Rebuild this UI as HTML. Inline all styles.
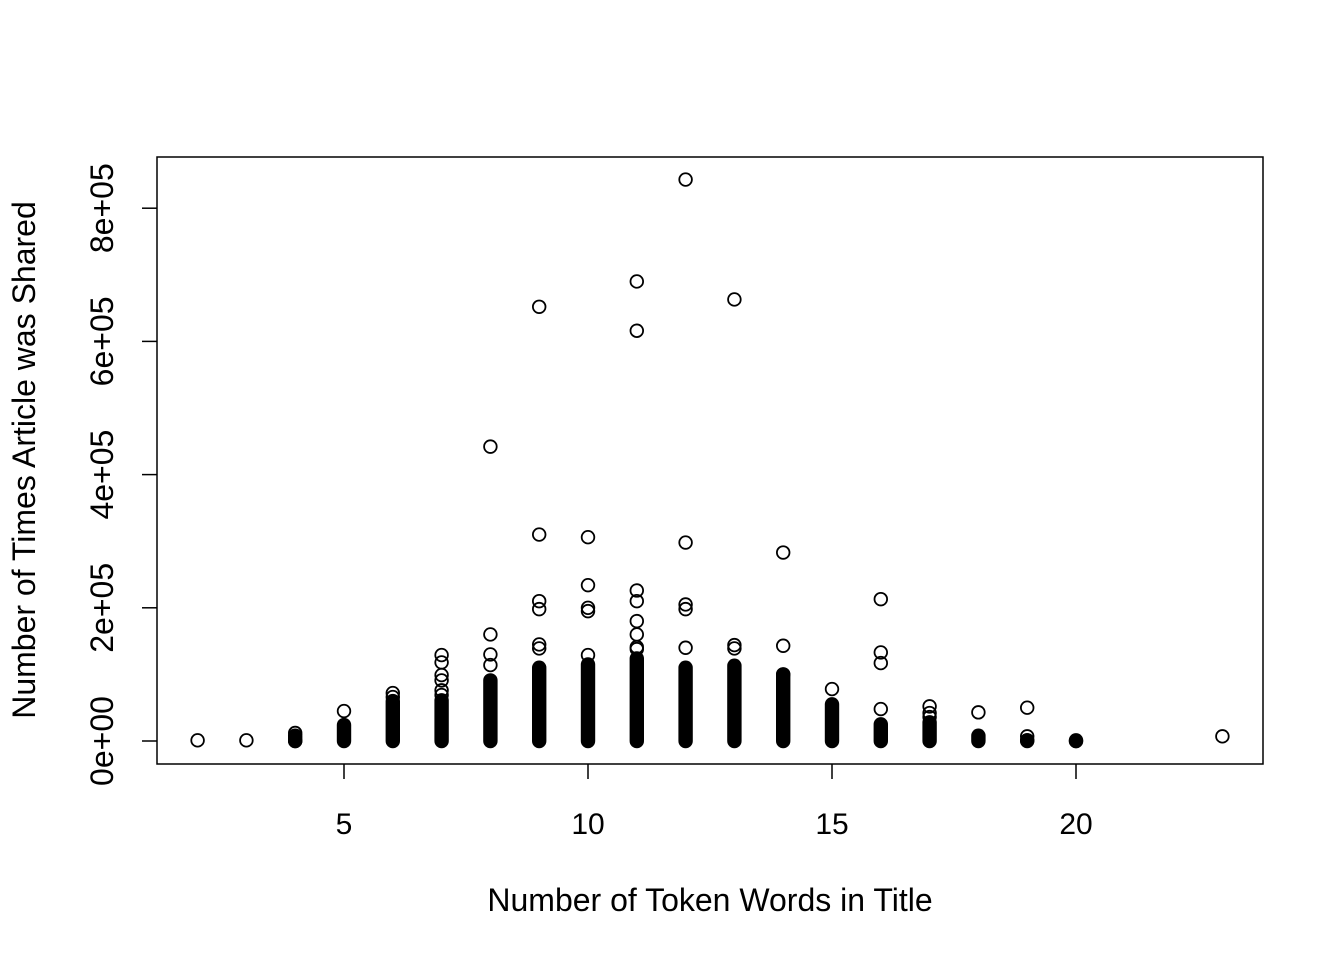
<!DOCTYPE html>
<html><head><meta charset="utf-8"><style>
html,body{margin:0;padding:0;background:#fff;}
svg text{font-family:"Liberation Sans",Arial,sans-serif;fill:#000;}
</style></head><body>
<svg id="chart" width="1344" height="960" viewBox="0 0 1344 960" xmlns="http://www.w3.org/2000/svg">
<rect width="1344" height="960" fill="#fff"/>
<rect x="157" y="157" width="1106" height="607" fill="none" stroke="#000" stroke-width="1.5"/>
<g id="marks"></g>
<g id="axes"></g>
<text x="710" y="911" font-size="32" text-anchor="middle">Number of Token Words in Title</text>
<text transform="translate(35,460) rotate(-90)" font-size="32" text-anchor="middle">Number of Times Article was Shared</text>
</svg>
<script>
// Dense columns: word count and approximate top (shares) of the solid stack of points
const denseX = [4, 5, 6, 7, 8, 9, 10, 11, 12, 13, 14, 15, 16, 17, 18, 19, 20];
const denseTop = [8000, 24000, 60000, 61000, 91000, 110000, 115000, 124000, 110000, 113000, 100000, 55000, 25000, 28000, 8000, 1000, 1000];
// Individual visible points
const ptX = [2, 3, 4, 4, 5, 6, 6, 7, 7, 7, 7, 7, 7, 8, 8, 8, 8, 9, 9, 9, 9, 9, 9, 10, 10, 10, 10, 10, 11, 11, 11, 11, 11, 11, 11, 11, 12, 12, 12, 12, 12, 13, 13, 13, 14, 14, 14, 15, 16, 16, 16, 16, 17, 17, 17, 18, 19, 19, 19, 20, 23];
const ptY = [1000, 1000, 0, 12000, 45000, 72000, 66000, 129000, 118000, 99000, 91000, 76000, 69000, 442000, 160000, 130000, 114000, 652000, 310000, 210000, 198000, 145000, 139000, 306000, 234000, 200000, 195000, 129000, 690000, 616000, 226000, 210000, 180000, 160000, 141000, 138000, 843000, 298000, 205000, 198000, 140000, 663000, 144000, 139000, 283000, 143000, 100000, 78000, 213000, 133000, 117000, 48000, 52000, 42000, 36000, 43000, 50000, 7000, 1000, 0, 7000];
const xTicks = [5, 10, 15, 20];
const yTicks = [0, 200000, 400000, 600000, 800000];
const yTickLabels = ["0e+00", "2e+05", "4e+05", "6e+05", "8e+05"];

const NS = "http://www.w3.org/2000/svg";
function sx(v){ return 344 + (v - 5) * 48.8; }
function sy(v){ return 741 - v * 0.000666; }
const marks = document.getElementById("marks");
const axes = document.getElementById("axes");
const R = 6.3;
denseX.forEach((x, i) => {
  const top = sy(denseTop[i]), bot = sy(0);
  const r = document.createElementNS(NS, "rect");
  r.setAttribute("x", sx(x) - R - 0.9);
  r.setAttribute("y", top - R - 0.9);
  r.setAttribute("width", 2 * R + 1.8);
  r.setAttribute("height", bot - top + 2 * R + 1.8);
  r.setAttribute("rx", R + 0.9);
  r.setAttribute("fill", "#000");
  
  
  marks.appendChild(r);
});
ptX.forEach((x, i) => {
  const c = document.createElementNS(NS, "circle");
  c.setAttribute("cx", sx(x));
  c.setAttribute("cy", sy(ptY[i]));
  c.setAttribute("r", R);
  c.setAttribute("fill", "none");
  c.setAttribute("stroke", "#000");
  c.setAttribute("stroke-width", "1.8");
  
  
  marks.appendChild(c);
});
xTicks.forEach(t => {
  const l = document.createElementNS(NS, "line");
  l.setAttribute("x1", sx(t)); l.setAttribute("x2", sx(t));
  l.setAttribute("y1", 764); l.setAttribute("y2", 779);
  l.setAttribute("stroke", "#000"); l.setAttribute("stroke-width", "1.5");
  
  
  axes.appendChild(l);
  const tx = document.createElementNS(NS, "text");
  tx.setAttribute("x", sx(t)); tx.setAttribute("y", 834);
  tx.setAttribute("font-size", "30"); tx.setAttribute("text-anchor", "middle");
  tx.textContent = t;
  
  
  axes.appendChild(tx);
});
yTicks.forEach((t, i) => {
  const l = document.createElementNS(NS, "line");
  l.setAttribute("x1", 142); l.setAttribute("x2", 157);
  l.setAttribute("y1", sy(t)); l.setAttribute("y2", sy(t));
  l.setAttribute("stroke", "#000"); l.setAttribute("stroke-width", "1.5");
  
  
  axes.appendChild(l);
  const tx = document.createElementNS(NS, "text");
  tx.setAttribute("transform", "translate(113," + sy(t) + ") rotate(-90)");
  tx.setAttribute("font-size", "32"); tx.setAttribute("text-anchor", "middle");
  tx.textContent = yTickLabels[i];
  
  
  axes.appendChild(tx);
});
</script>
</body></html>
